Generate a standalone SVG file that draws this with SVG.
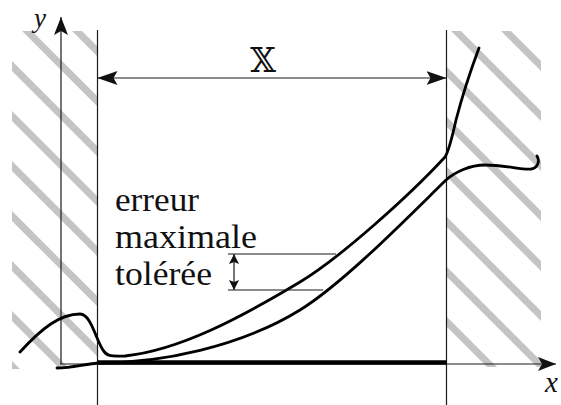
<svg xmlns="http://www.w3.org/2000/svg" width="561" height="405" viewBox="0 0 561 405">
<defs>
<style>
.thin{stroke:#1a1a1a;stroke-width:1.2;fill:none}
.curve{stroke:#000;stroke-width:2.8;fill:none;stroke-linecap:round;stroke-linejoin:round}
.stripe{stroke:#c4c4c4;stroke-width:7}
.lbl{fill:#111;font-family:"Liberation Serif","Times New Roman","DejaVu Serif",serif}
.ah{fill:#111}
</style>
<clipPath id="clipL"><rect x="12" y="31" width="85.5" height="338"/></clipPath>
<clipPath id="clipR"><rect x="446.5" y="31" width="94.5" height="336"/></clipPath>
<marker id="bigArrow" viewBox="-20 -7 20 14" markerWidth="20" markerHeight="14" refX="0" refY="0" orient="auto-start-reverse" markerUnits="userSpaceOnUse"><path class="ah" d="M0,0 L-20,-7 L-16,0 L-20,7 Z"/></marker>
<marker id="axisArrow" viewBox="-18 -7 18 14" markerWidth="18" markerHeight="14" refX="0" refY="0" orient="auto" markerUnits="userSpaceOnUse"><path class="ah" d="M0,0 L-18,-7 L-14,0 L-18,7 Z"/></marker>
<marker id="smallArrow" viewBox="-10 -5 10 10" markerWidth="10" markerHeight="10" refX="0" refY="0" orient="auto-start-reverse" markerUnits="userSpaceOnUse"><path class="ah" d="M0,0 L-10,-5 L-8,0 L-10,5 Z"/></marker>
</defs>
<rect width="561" height="405" fill="#fff"/>
<g id="hatch-left" clip-path="url(#clipL)">
<line class="stripe" x1="0" y1="-46" x2="120" y2="74"/>
<line class="stripe" x1="0" y1="4" x2="120" y2="124"/>
<line class="stripe" x1="0" y1="54" x2="120" y2="174"/>
<line class="stripe" x1="0" y1="104" x2="120" y2="224"/>
<line class="stripe" x1="0" y1="154" x2="120" y2="274"/>
<line class="stripe" x1="0" y1="204" x2="120" y2="324"/>
<line class="stripe" x1="0" y1="254" x2="120" y2="374"/>
<line class="stripe" x1="0" y1="304" x2="120" y2="424"/>
<line class="stripe" x1="0" y1="354" x2="120" y2="474"/>
</g>
<g id="hatch-right" clip-path="url(#clipR)">
<line class="stripe" x1="430" y1="-45" x2="560" y2="85"/>
<line class="stripe" x1="430" y1="5" x2="560" y2="135"/>
<line class="stripe" x1="430" y1="55" x2="560" y2="185"/>
<line class="stripe" x1="430" y1="105" x2="560" y2="235"/>
<line class="stripe" x1="430" y1="155" x2="560" y2="285"/>
<line class="stripe" x1="430" y1="205" x2="560" y2="335"/>
<line class="stripe" x1="430" y1="255" x2="560" y2="385"/>
<line class="stripe" x1="430" y1="305" x2="560" y2="435"/>
</g>
<g id="boundaries">
<line class="thin" x1="97.5" y1="30" x2="97.5" y2="405"/>
<line class="thin" x1="446.5" y1="30" x2="446.5" y2="405"/>
</g>
<g id="axes">
<line class="thin" x1="61" y1="364" x2="61" y2="17" marker-end="url(#axisArrow)"/>
<line class="thin" x1="60" y1="364" x2="556" y2="364" marker-end="url(#axisArrow)"/>
<line x1="97.5" y1="362.5" x2="446.5" y2="362.5" stroke="#000" stroke-width="4.5"/>
</g>
<g id="curves">
<path id="curve-a" class="curve" d="M20,352 C42,328 60,314 80,314 C91,314 96,340 103,350 C107,357 112,356 125,356 C180,350 240,318 300,282 C340,258 410,195 445,157 C449,151 452,138 456,120 C462,97 470,72 479,48"/>
<path id="curve-b" class="curve" d="M57,368 C72,368 85,364 100,363 C160,363 240,347 300,310 C345,282 410,215 446,180 C455,172 470,165 485,165 C505,165 522,170 531,169 C538,168 540,161 537,156"/>
</g>
<g id="dimension-X">
<line class="thin" x1="97.5" y1="78" x2="446.5" y2="78" marker-start="url(#bigArrow)" marker-end="url(#bigArrow)"/>
<text x="263" y="72" font-size="33" text-anchor="middle" fill="#111" font-family="DejaVu Serif, DejaVu Sans, serif">𝕏</text>
</g>
<g id="tolerance">
<line class="thin" x1="228" y1="254" x2="336" y2="254"/>
<line class="thin" x1="228" y1="290" x2="323" y2="290"/>
<line class="thin" x1="234" y1="254" x2="234" y2="290" marker-start="url(#smallArrow)" marker-end="url(#smallArrow)"/>
<text class="lbl" x="115" y="211" font-size="33" textLength="84" lengthAdjust="spacingAndGlyphs">erreur</text>
<text class="lbl" x="115" y="248" font-size="33" textLength="142" lengthAdjust="spacingAndGlyphs">maximale</text>
<text class="lbl" x="115" y="285" font-size="33" textLength="97" lengthAdjust="spacingAndGlyphs">tolérée</text>
</g>
<g id="axis-labels">
<text class="lbl" x="34" y="27" font-size="27" font-style="italic">y</text>
<text class="lbl" x="545" y="392" font-size="29" font-style="italic">x</text>
</g>
</svg>
